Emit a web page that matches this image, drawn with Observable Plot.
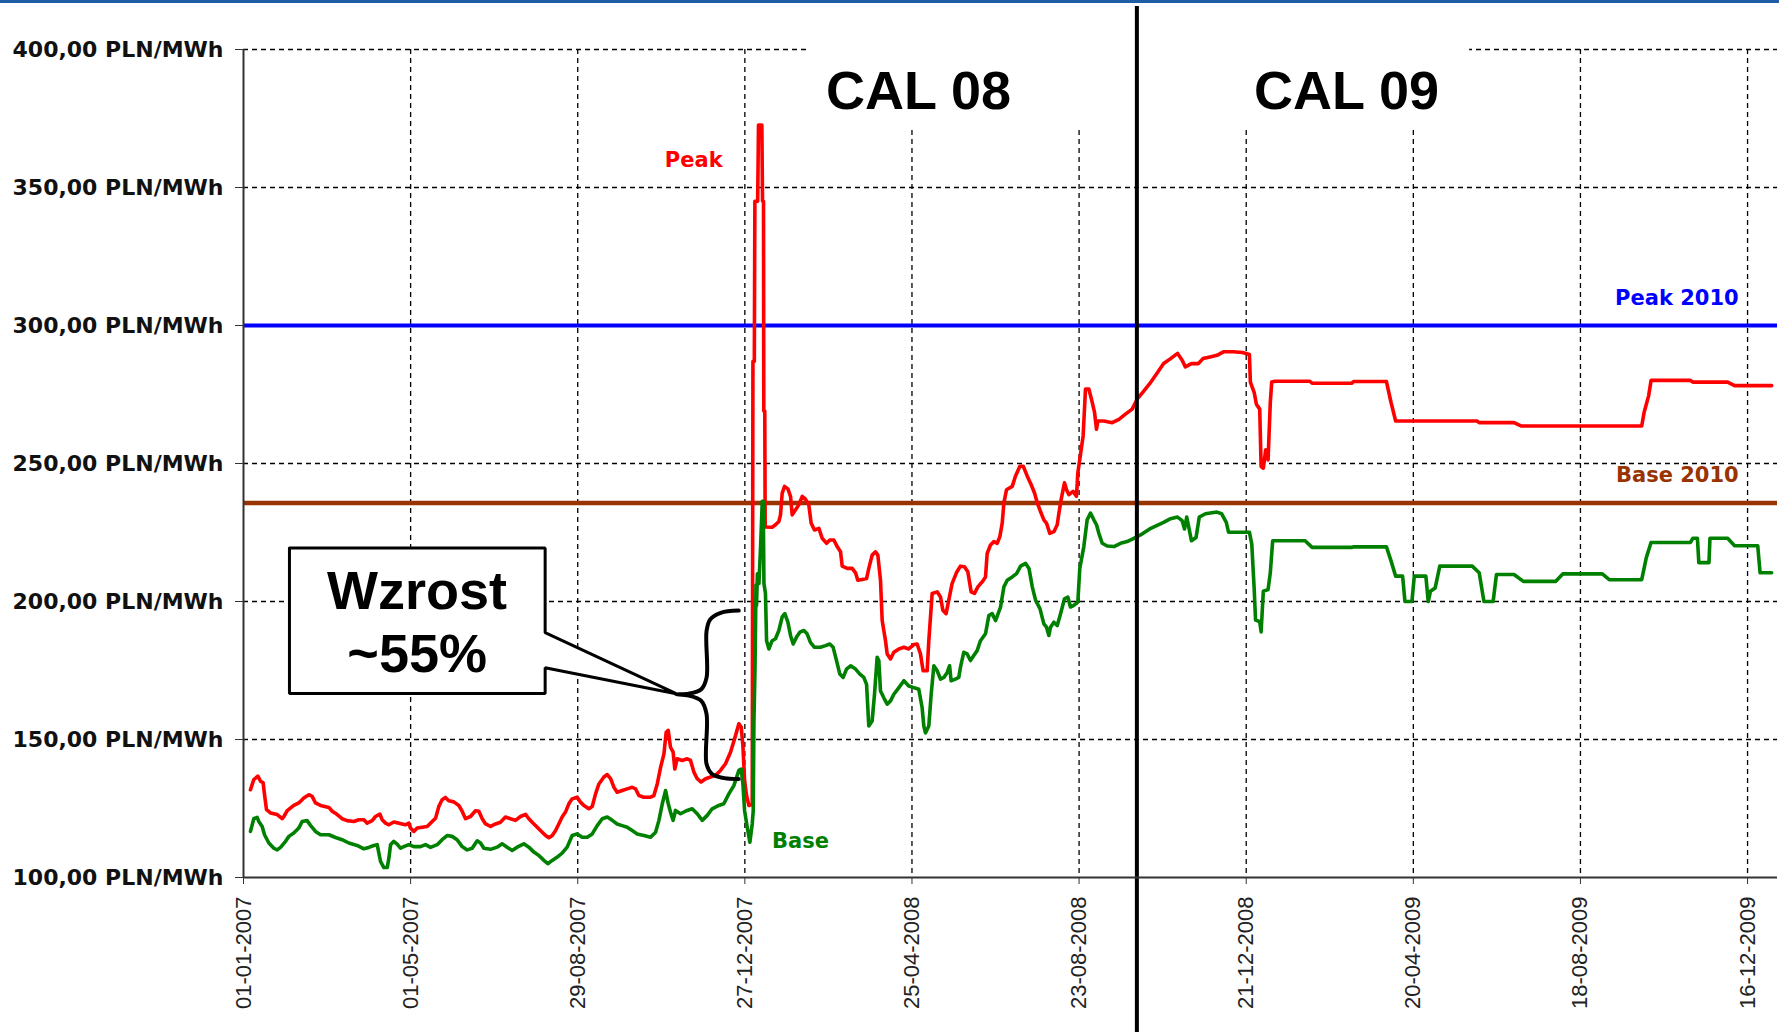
<!DOCTYPE html>
<html><head><meta charset="utf-8">
<script src="https://cdn.jsdelivr.net/npm/d3@7"></script>
<script src="https://cdn.jsdelivr.net/npm/@observablehq/plot@0.6"></script>
<style>
html,body{margin:0;padding:0;background:#fff;}
#chart{position:absolute;left:0;top:0;}
#topbar{position:absolute;left:0;top:0;width:1779px;height:3px;background:#1f5ca6;}
</style></head><body>
<div id="chart"></div><div id="topbar"></div>
<script>
// ---- data (days since 01-01-2007, PLN/MWh) ----
const peakDays = [5,7.4,10.3,12.2,14.1,15.1,16.5,19.4,24.2,27.8,29,31.4,36.1,39.7,43.3,46.9,49.3,51.7,55.3,61.3,63.7,67.3,70.8,74.4,79.2,82.8,86.4,88.8,92.4,94.8,97.9,99.6,102,104.4,107.9,111.5,116.3,118.7,119.9,122.3,124.7,128.3,131.9,135.5,137.9,140.3,142.6,145,147.4,151,154.6,157,159.4,163,166.6,169,171.4,173.8,177.4,181,184.5,188.1,191.7,195.3,198.9,202.5,204.9,207.3,210.9,214.5,216.9,219.3,221.7,224.1,226.4,228.8,231.2,233.6,236,239.6,242,244.4,248,250.4,252.8,255.2,258.8,261.2,263.6,266,268.3,271.9,275.5,279.1,281.5,283.9,287.5,292.3,294.7,297.1,299.5,301.9,303.5,305,306.6,308.5,309.7,311.4,315,318.6,321,323.4,325.8,328.6,331.8,335.3,338.9,342.5,346.1,349.7,353.3,355.7,357.4,358.6,359.8,361.2,362.9,365.3,365.8,366.8,367.2,369.2,369.8,372.2,372.7,373.4,373.6,374.3,374.6,379.6,382,384.4,385.6,386.8,388.5,390.9,392.8,394,396.4,398.8,401.2,403.5,405.9,407.6,410,413.2,415.5,418.7,421,423.9,426.3,428.7,429.9,433.5,437.1,439.5,441.1,444.2,447.4,449,451.4,453.8,455.5,457.4,458.6,461,462.2,464.6,467,470.6,474.2,477.7,481.3,483.7,486.1,488,490.9,492.1,494.5,498.1,500.5,502.2,504.5,506.4,508.8,511.9,514.8,517.7,520.1,522.5,524.9,527.3,530.4,532.8,534,536.4,538.8,541.2,543.1,544.8,546,547.9,552,554.3,557.5,559.9,562.8,565.6,568,570,572.3,574.7,576.6,579,581.9,584.3,585.5,587.1,589.5,591,592.7,595.7,598.1,599.1,601,602.9,604.6,607,608.9,611.1,612.5,613.5,617.8,623.8,628.6,633.3,638.1,641.7,645.7,650.7,655.7,660.7,665.7,670.7,674,676.3,680.7,685.7,689,694,699,704,710.7,717.3,722.3,723,725.7,727.3,729.7,730.7,732.3,734,735.7,737.3,738.3,740.7,765.7,767.3,795.7,797.3,820.7,824,827.3,885.7,887.3,912.3,917.3,1004,1005.7,1009,1010.7,1039,1040.7,1065.7,1070.7,1097.3];
const peakValues = [131.8,135.5,136.7,134.9,134.3,130.0,124.6,123.4,122.8,121.3,122.1,124.2,126.1,127.0,128.8,130.0,129.4,127.0,126.1,125.4,124.0,122.8,121.3,120.6,120.3,120.9,120.9,119.7,120.6,122.1,123.0,120.9,119.7,119.1,120.1,119.7,119.1,119.7,117.9,116.7,117.9,118.2,118.5,120.3,121.5,125.8,128.2,129.0,127.8,127.4,126.1,124.0,121.3,122.1,124.2,124.0,121.3,119.4,118.5,119.4,120.0,121.9,121.3,120.7,122.1,122.9,121.3,120.0,118.2,116.4,115.2,114.4,115.2,117.0,119.4,121.9,123.7,126.7,128.5,129.1,127.3,126.1,124.9,125.7,130.3,133.9,136.4,137.3,135.8,132.7,130.9,131.5,132.1,132.7,132.1,129.7,129.1,129.1,129.7,133.9,139.9,144.8,152.6,153.3,147.2,145.4,139.3,143.0,142.4,143.0,142.4,138.2,135.8,134.6,135.8,136.4,137.0,138.8,141.2,145.4,151.4,155.7,154.5,147.8,135.2,129.7,126.1,126.5,287,287,345,345,372.6,372.6,345,345,269,269,227,226.9,227.8,229.0,231.4,239.3,241.7,240.8,238.1,231.4,233.2,235.1,238.1,237.1,235.1,228.4,225.9,226.5,222.9,221.1,222.3,222.3,219.9,218.0,212.8,212.0,212.0,210.4,207.7,208.0,208.3,212.0,216.8,218.0,216.8,207.7,193.1,185.8,181.0,179.2,181.6,182.8,183.4,182.8,184.4,184.6,181.0,174.9,174.9,185.8,202.9,203.5,201.6,196.8,195.6,200.4,206.5,210.4,212.8,212.6,210.8,203.5,202.9,205.3,207.1,208.9,217.4,220.5,221.7,221.1,223.5,228.4,235.7,240.5,241.7,245.4,249.0,249.0,245.4,242.3,239.3,235.7,232.6,229.6,228.4,224.7,225.3,227.8,232.0,236.9,243.0,240.5,238.7,239.9,238.1,246.6,253.3,260.0,277.0,277.0,273.3,268.5,262.4,265.4,265.4,264.8,266.0,267.9,269.7,273.3,275.8,278.9,282.5,286.2,288.0,289.9,287.4,285.0,286.2,286.2,288.0,288.6,289.2,290.5,290.5,290.2,289.5,279.5,275.8,271.5,269.7,248.9,248.3,255.0,251.3,272.1,279.5,279.8,279.8,279.1,279.1,279.7,279.7,272.1,265.4,265.4,264.8,264.8,263.6,263.6,268.5,274.6,280.1,280.1,279.5,279.5,278.2,278.2];

const baseDays = [5,7.4,9.8,11,13.4,15.1,18.2,21.8,24.2,26.6,30.2,32.6,36.1,39.7,42.1,45.7,48.1,51.7,55.3,61.3,66.1,70.8,75.6,81.6,86.4,90,93.6,96,97.2,98.4,100.8,103.2,104.4,105.6,107.9,110.3,112.7,115.1,118.7,122.3,127.1,130.7,134.3,139.1,142.6,146.2,149.8,153.4,157,160.6,164.2,167.8,170.2,172.6,177.4,182.1,185.7,189.3,192.9,196.5,201.3,204.9,208.5,212.1,215.7,218.5,221.7,225.3,228.8,232.4,236,239.6,243.2,246.8,250.4,254,257.6,261.2,264.8,268.3,271.9,275.5,279.1,282.7,287.5,292.3,295.9,298.3,300.7,303.1,305,306.6,308.5,310.2,313.8,318.6,322.2,325.8,329.4,333,336.5,341.3,344.9,348.5,352.1,355.7,357.4,358.6,359.8,361.7,363.6,365.3,366,366.5,367.3,368,368.4,369,370.1,371.3,372.5,373.2,373.7,374.8,375.6,377.3,379.6,382,384.4,386.8,388.7,390.9,392.8,394.7,397.1,399.5,402.4,404.7,407.1,410,414.3,417.9,421,423.4,425.8,428.2,430.6,433,435.9,439.5,442.6,445.4,447.4,449,451.4,453.1,455,456.2,457.4,459.8,462.2,464.6,467,470.6,474.2,477.7,481.3,484.9,487.3,488.5,489.7,492.1,493.8,495.7,498.1,500.5,502.9,505.3,507,508.1,511.2,513.6,514.8,517.2,519.6,522,524.4,526.8,529.2,532.8,535.2,537.6,540,543.6,546,548.4,552,555.1,558,561.6,564,566.4,568.8,571.9,574.7,576.6,578.3,579.5,581.9,584.3,586.7,589.5,591.9,593.8,596.2,599.1,600.5,603.4,605.8,608.2,610.6,612.5,614.2,616.6,620.2,625,629.8,634.5,639.3,644.1,650.7,655.7,660.7,665.7,670.7,674,675.7,677.3,679,680.7,684,686.3,690.7,699,702.3,705.7,707.3,722.3,724,725.7,726.7,729.7,730.7,732.3,735.7,737.3,739,762.3,767.3,795.7,797.3,820.7,824,827.3,832.3,834,839,840.7,849,850.7,852.3,855.7,859,882.3,887.3,890.7,897.3,899.7,912.3,919,942.3,947.3,975.7,980.7,1004,1007.3,1010.7,1039,1040.7,1044,1045,1052.3,1053,1065.7,1070.7,1087.3,1089,1097.3];
const baseValues = [116.7,121.3,121.8,120.3,118.5,115.5,112.5,110.6,110.0,110.9,113.1,114.9,116.1,117.9,120.3,120.6,118.9,116.7,115.5,115.5,114.5,113.7,112.5,111.6,110.4,110.9,111.6,111.9,108.8,105.8,103.6,103.6,107.0,111.9,113.1,112.1,110.6,111.2,111.9,111.2,111.2,111.9,110.9,111.9,113.7,115.2,114.9,113.7,111.2,110.0,110.6,113.3,112.5,110.6,110.2,111.0,112.2,111.0,109.8,111.0,112.2,111.0,109.2,108.0,106.2,105.0,106.2,107.4,108.8,111.0,115.2,115.8,114.6,114.6,115.8,118.8,121.3,121.9,120.7,119.4,118.8,118.2,117.0,115.8,115.2,114.6,116.4,120.7,126.7,131.5,126.7,123.7,120.7,124.3,123.1,124.3,124.9,123.1,120.7,122.5,124.9,126.1,126.7,130.3,133.3,138.8,139.3,133.9,124.3,118.2,112.8,119.4,124,156,176,206,198.6,210,206.5,219.9,236.3,236.3,206.5,202.9,185.8,182.8,185.8,186.5,189.5,194.4,195.6,192.5,187.7,184.6,187.1,188.9,189.5,188.3,185.2,183.4,183.4,184.0,184.6,183.4,178.6,173.7,172.5,175.5,176.7,175.5,173.7,172.5,170.0,154.9,156.7,166.4,179.8,178.6,167.6,165.1,162.8,164.0,166.4,168.8,171.3,169.4,168.8,168.2,161.5,154.9,152.4,154.9,166.4,176.7,174.9,171.9,172.5,174.3,176.7,171.3,171.9,172.5,176.1,181.6,181.0,178.6,180.4,182.2,185.8,188.3,194.9,195.6,193.1,198.0,205.3,207.7,208.9,210.1,212.8,213.8,212.0,205.3,200.4,197.4,191.9,190.7,187.7,190.7,192.5,191.3,195.6,201.0,201.6,198.0,198.6,199.8,212.0,219.9,229.6,232.0,229.6,227.8,224.7,221.1,220.1,219.9,221.1,221.7,222.9,224.1,226.3,227.5,228.7,230.0,230.6,229.3,226.3,230.6,226.3,222.0,223.2,230.6,231.8,232.4,231.8,228.7,225.1,225.1,220.8,204.9,193.3,192.7,189.0,203.7,204.3,210.4,222.0,222.0,219.6,219.6,219.8,219.8,214.7,209.2,209.2,200.0,200.0,209.2,209.2,200.0,203.7,204.9,212.8,212.8,210.4,200.0,200.0,209.8,209.8,207.3,207.3,210.0,210.0,207.9,207.9,215.9,221.4,221.4,222.9,222.9,214.1,214.1,222.9,222.9,220.2,220.2,210.4,210.4];

const peak2010 = 300;
const base2010 = 235.7;
const xTickLabels = ["01-01-2007","01-05-2007","29-08-2007","27-12-2007","25-04-2008","23-08-2008","21-12-2008","20-04-2009","18-08-2009","16-12-2009"];
const yTicks = [100,150,200,250,300,350,400];
const yTickLabels = ["100,00 PLN/MWh","150,00 PLN/MWh","200,00 PLN/MWh","250,00 PLN/MWh","300,00 PLN/MWh","350,00 PLN/MWh","400,00 PLN/MWh"];

// annotation geometry in data units (days, PLN/MWh)
const calloutDays   = [33.0, 216.6, 216.6, 310.7, 216.6, 216.6, 33.0, 33.0];
const calloutValues = [219.4, 219.4, 188.7, 166.6, 176.0, 166.7, 166.7, 219.4];
const braceDays   = [355.6, 342.7, 335.1, 332.5, 332.5, 328.7, 319.7, 310.7, 319.7, 328.7, 332.5, 332.5, 336.4, 345.3, 355.6];
const braceValues = [196.7, 195.9, 193.5, 189.3, 172.4, 168.2, 166.6, 166.4, 165.9, 164.0, 159.2, 141.1, 137.5, 136.0, 135.7];
const dividerDay = 641.5;
const domainEndDay = 1101.5;

// ---- build ----
const START = Date.UTC(2007, 0, 1);
const toDate = d => new Date(START + d * 864e5);
const parse = d3.utcParse("%d-%m-%Y");
const tickDates = xTickLabels.map(parse);
const xTicks = xTickLabels.map(s => ({date: parse(s), label: s}));
const peak = peakDays.map((d, i) => ({date: toDate(d), value: peakValues[i]}));
const base = baseDays.map((d, i) => ({date: toDate(d), value: baseValues[i]}));
const callout = calloutDays.map((d, i) => ({date: toDate(d), value: calloutValues[i]}));
const brace = braceDays.map((d, i) => ({date: toDate(d), value: braceValues[i]}));
const yLabel = new Map(yTicks.map((t, i) => [t, yTickLabels[i]]));

const labelFont = "DejaVu Sans";
const bigFont = "Liberation Sans, Arial, sans-serif";

const chart = Plot.plot({
  width: 1779, height: 1032,
  marginLeft: 243, marginRight: 2, marginTop: 49, marginBottom: 155,
  x: {type: "utc", domain: [toDate(0), toDate(domainEndDay)]},
  y: {domain: [100, 400]},
  style: {background: "white", color: "#111", overflow: "visible"},
  marks: [
    Plot.gridY(yTicks.slice(1), {stroke: "#000", strokeOpacity: 1, strokeWidth: 1.3, strokeDasharray: "5,4"}),
    Plot.gridX(tickDates.slice(1), {stroke: "#000", strokeOpacity: 1, strokeWidth: 1.3, strokeDasharray: "5,4"}),
    Plot.rect([{x1: toDate(404.3), x2: toDate(880.4), y1: 370.8, y2: 412}], {x1: "x1", x2: "x2", y1: "y1", y2: "y2", fill: "white"}),
    Plot.ruleY([peak2010], {stroke: "#0000ff", strokeWidth: 4}),
    Plot.ruleY([base2010], {stroke: "#993300", strokeWidth: 4.5}),
    Plot.line(peak, {x: "date", y: "value", stroke: "#ff0000", strokeWidth: 3.6}),
    Plot.line(base, {x: "date", y: "value", stroke: "#008000", strokeWidth: 3.6}),
    Plot.line(callout, {x: "date", y: "value", stroke: "#000", fill: "white", strokeWidth: 3, strokeLinejoin: "miter"}),
    Plot.line(brace, {x: "date", y: "value", stroke: "#000", strokeWidth: 4, curve: "catmull-rom"}),
    Plot.text(["Wzrost"], {x: toDate(124.6), y: 203.7, text: d => d, fontSize: 54, fontWeight: "bold", fontFamily: bigFont, fill: "#000"}),
    Plot.text(["~55%"], {x: toDate(124.7), y: 180.8, text: d => d, fontSize: 54, fontWeight: "bold", fontFamily: bigFont, fill: "#000"}),
    Plot.text(["CAL 08"], {x: toDate(484.7), y: 384.8, text: d => d, fontSize: 54, fontWeight: "bold", fontFamily: bigFont, fill: "#000"}),
    Plot.text(["CAL 09"], {x: toDate(792), y: 384.8, text: d => d, fontSize: 54, fontWeight: "bold", fontFamily: bigFont, fill: "#000"}),
    Plot.text(["Peak"], {x: toDate(323.3), y: 359.8, text: d => d, fontSize: 21, fontWeight: "bold", fontFamily: labelFont, fill: "#ff0000"}),
    Plot.text(["Base"], {x: toDate(400), y: 113.3, text: d => d, fontSize: 21, fontWeight: "bold", fontFamily: labelFont, fill: "#008000"}),
    Plot.text(["Peak 2010"], {x: toDate(1073.6), y: 309.7, text: d => d, textAnchor: "end", fontSize: 21, fontWeight: "bold", fontFamily: labelFont, fill: "#0000ff"}),
    Plot.text(["Base 2010"], {x: toDate(1073.6), y: 245.6, text: d => d, textAnchor: "end", fontSize: 21, fontWeight: "bold", fontFamily: labelFont, fill: "#993300"}),
    Plot.ruleX([{x: toDate(dividerDay), y1: 415.6, y2: 40}], {x: "x", y1: "y1", y2: "y2", stroke: "#000", strokeWidth: 4}),
    Plot.ruleX([toDate(0)], {y1: 100, y2: 400, stroke: "#333", strokeWidth: 2}),
    Plot.ruleY([100], {stroke: "#333", strokeWidth: 2}),
    Plot.axisX({ticks: tickDates, tickFormat: () => "", tickSize: 7, stroke: "#333"}),
    Plot.text(xTicks, {x: "date", y: 100, dy: 19, text: "label", rotate: -90, textAnchor: "end", lineAnchor: "middle", fontSize: 22, fontFamily: "Liberation Sans", fill: "#222"}),
    Plot.axisY({ticks: yTicks, tickFormat: t => yLabel.get(t), tickSize: 8, tickPadding: 12, fontSize: 22, fontWeight: "bold", fontFamily: labelFont, stroke: "#333", fill: "#111"})
  ]
});
d3.select(chart).selectAll('g[aria-label="y-axis tick label"]').attr("font-size", 22).attr("font-family", labelFont).attr("font-weight", "bold").style("font-size", "22px");
document.getElementById("chart").appendChild(chart);
</script></body></html>
